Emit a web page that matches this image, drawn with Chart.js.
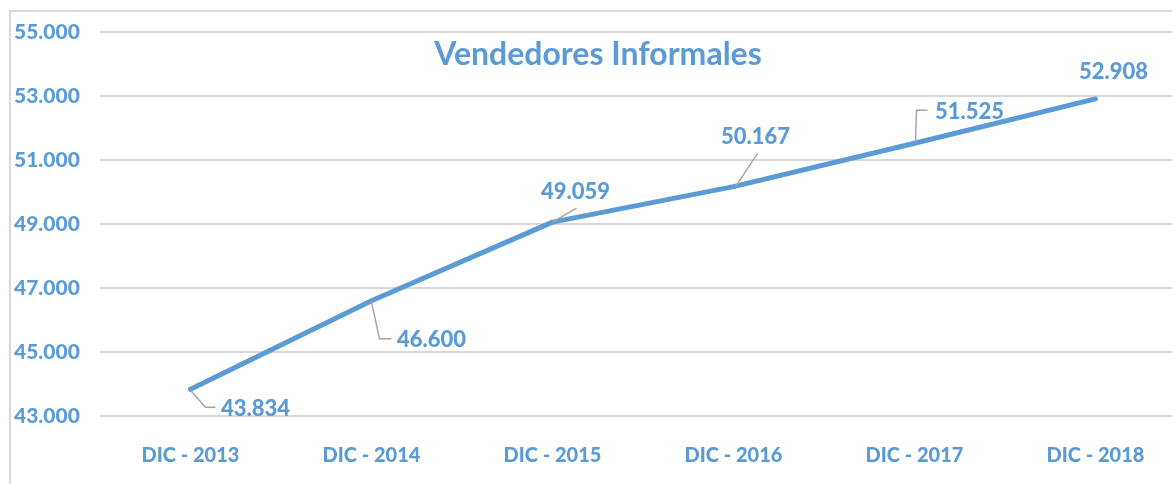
<!DOCTYPE html>
<html>
<head>
<meta charset="utf-8">
<script src="https://cdn.jsdelivr.net/npm/chart.js@4"></script>
<style>
  html, body { margin: 0; padding: 0; background: #fff; overflow: hidden; }
  .frame { position: absolute; left: 9px; top: 10px; width: 1300px; height: 600px;
           border-left: 2px solid #d9d9d9; border-top: 2px solid #d9d9d9; }
  .chart { position: absolute; left: 0; top: 0; width: 1200px; height: 484px; }
</style>
</head>
<body>
<div class="frame"></div>
<div class="chart"><canvas id="myChart"></canvas></div>
<script>
const titleText = 'Vendedores Informales';
const years = ['DIC - 2013', 'DIC - 2014', 'DIC - 2015', 'DIC - 2016', 'DIC - 2017', 'DIC - 2018'];
const vendedores = [43834, 46600, 49059, 50167, 51525, 52908];
const yTicks = [43000, 45000, 47000, 49000, 51000, 53000, 55000];

const blue = '#5b9bd5';
const font = 'Lato, "Open Sans", sans-serif';

// label offsets from the point and leader lines, like the excel chart
const labelOffsets = [[65, 20], [60, 39], [23, -30], [22, -50], [55, -31], [18, -27]];
const leaders = [
  [[0, 1], [15, 18], [25, 18]],
  [[0, 1], [8, 38], [20, 38]],
  [[0, 0], [24, -14]],
  [[2, 0], [24, -33]],
  [[1, -1], [2, -33], [13, -33]],
  []
];

const fmt = v => v.toLocaleString('de-DE');

const titlePlugin = {
  id: 'titleInside',
  afterDraw(chart) {
    const ctx = chart.ctx;
    ctx.save();
    ctx.font = `700 32px ${font}`;
    ctx.fillStyle = blue;
    ctx.textAlign = 'center';
    ctx.textBaseline = 'alphabetic';
    ctx.fillText(titleText, 598, 65);
    ctx.restore();
  }
};

const labelsPlugin = {
  id: 'pointLabels',
  afterDatasetsDraw(chart) {
    const ctx = chart.ctx;
    const meta = chart.getDatasetMeta(0);
    ctx.save();
    meta.data.forEach((pt, i) => {
      const lead = leaders[i];
      if (lead.length) {
        ctx.beginPath();
        ctx.strokeStyle = '#a6a6a6';
        ctx.lineWidth = 1.5;
        lead.forEach((p, j) => {
          if (j === 0) ctx.moveTo(pt.x + p[0], pt.y + p[1]);
          else ctx.lineTo(pt.x + p[0], pt.y + p[1]);
        });
        ctx.stroke();
      }
      ctx.font = `900 22px ${font}`;
      ctx.fillStyle = blue;
      ctx.textAlign = 'center';
      ctx.textBaseline = 'middle';
      ctx.fillText(fmt(vendedores[i]), pt.x + labelOffsets[i][0], pt.y + labelOffsets[i][1]);
    });
    ctx.restore();
  }
};

const ctx = document.getElementById('myChart');
new Chart(ctx, {
  type: 'line',
  data: {
    labels: years,
    datasets: [{
      data: vendedores,
      borderColor: blue,
      borderWidth: 5,
      borderCapStyle: 'round',
      borderJoinStyle: 'round',
      pointRadius: 0,
      tension: 0
    }]
  },
  options: {
    responsive: true,
    maintainAspectRatio: false,
    animation: false,
    layout: { padding: { left: 14, right: 14, top: 32, bottom: 0 } },
    plugins: { legend: { display: false }, tooltip: { enabled: false } },
    scales: {
      x: {
        offset: true,
        grid: { display: false },
        border: { display: false },
        ticks: { color: blue, font: { family: font, size: 20, weight: '900' }, padding: 20, maxRotation: 0 },
        afterFit: s => { s.height = 68; }
      },
      y: {
        min: 43000,
        max: 55000,
        afterBuildTicks: s => { s.ticks = yTicks.map(v => ({ value: v })); },
        grid: { color: '#d9d9d9', lineWidth: 2, drawTicks: false },
        border: { display: false },
        ticks: {
          color: blue,
          crossAlign: 'far',
          font: { family: font, size: 21, weight: '900' },
          callback: v => fmt(v)
        },
        afterFit: s => { s.width = 86; }
      }
    }
  },
  plugins: [titlePlugin, labelsPlugin]
});
</script>
</body>
</html>
